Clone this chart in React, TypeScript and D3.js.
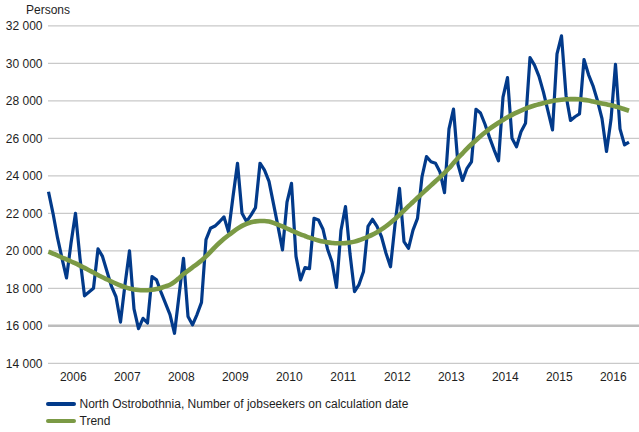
import * as React from 'react';
import { useEffect, useRef } from 'react';
import * as d3 from 'd3';

// monthly values, Jan 2006 .. Oct 2016
const years = ['2006', '2007', '2008', '2009', '2010', '2011', '2012', '2013', '2014', '2015', '2016'];

const jobseekers = [
    // 2006
    23150, 22000, 20700, 19600, 18550, 20400, 22000, 19600, 17600, 17800, 18000, 20100,
    // 2007
    19700, 18900, 18100, 17550, 16200, 18200, 20000, 16900, 15850, 16400, 16150, 18620,
    // 2008
    18450, 17800, 17200, 16600, 15600, 17600, 19600, 16500, 16050, 16600, 17250, 20600,
    // 2009
    21200, 21320, 21550, 21810, 21000, 22880, 24670, 22000, 21560, 21900, 22300, 24670,
    // 2010
    24300, 23700, 22500, 21300, 20050, 22600, 23600, 19700, 18450, 19100, 19050, 21730,
    // 2011
    21640, 21150, 20100, 19400, 18050, 21100, 22360, 19840, 17820, 18200, 18900, 21300,
    // 2012
    21680, 21300, 20750, 19870, 19150, 21400, 23330, 20490, 20130, 21100, 21730, 23950,
    // 2013
    25020, 24750, 24670, 24200, 23100, 26500, 27560, 24600, 23750, 24400, 24750, 27550,
    // 2014
    27350, 26750, 26050, 25400, 24800, 28200, 29240, 26000, 25550, 26350, 26800, 30300,
    // 2015
    29900, 29300, 28450, 27450, 26450, 30500, 31460, 28300, 26950, 27150, 27300, 30200,
    // 2016
    29400, 28800, 28000, 27050, 25300, 27000, 29950, 26500, 25650, 25800,
];

const trend = [
    19950, 19850, 19750, 19640, 19540, 19430, 19330, 19210, 19090, 18960, 18840, 18710,
    18590, 18470, 18360, 18250, 18150, 18060, 17990, 17940, 17910, 17900, 17900, 17920,
    17960, 18020, 18100, 18190, 18340, 18540, 18760, 18940, 19120, 19290, 19480, 19700,
    19940, 20200, 20430, 20640, 20830, 21010, 21180, 21330, 21440, 21520, 21570, 21590,
    21590, 21560, 21490, 21400, 21300, 21190, 21080, 20980, 20880, 20790, 20700, 20620,
    20550, 20490, 20450, 20420, 20400, 20400, 20410, 20440, 20490, 20560, 20650, 20750,
    20860, 20990, 21140, 21310, 21500, 21700, 21920, 22150, 22380, 22600, 22830, 23050,
    23270, 23490, 23710, 23930, 24160, 24400, 24680, 24950, 25200, 25450, 25680, 25900,
    26110, 26310, 26500, 26670, 26830, 26980, 27120, 27250, 27370, 27480, 27580, 27670,
    27750, 27820, 27880, 27940, 27990, 28030, 28060, 28080, 28090, 28090, 28080, 28050,
    28010, 27960, 27910, 27860, 27810, 27760, 27700, 27630, 27550, 27470,
];

const yTicks = [14000, 16000, 18000, 20000, 22000, 24000, 26000, 28000, 30000, 32000];

const seriesNames = ['North Ostrobothnia, Number of jobseekers on calculation date', 'Trend'];
const seriesColors = ['#023a8a', '#7b9a45'];

export default function App() {
    const svgRef = useRef<SVGSVGElement>(null);

    useEffect(() => {
        if (!svgRef.current) return;
        const width = 639;
        const font = '"Liberation Sans", Arial, sans-serif';

        const svg = d3.select(svgRef.current);
        svg.selectAll('*').remove();

        const x = d3.scaleLinear().domain([0, 131]).range([48.5, 638]);
        const y = d3.scaleLinear().domain([14000, 32000]).range([363.3, 25.8]);

        // gridlines (the 16 000 one is the axis, drawn heavier)
        svg.append('g')
            .selectAll('line')
            .data(yTicks)
            .enter().append('line')
            .attr('x1', 48)
            .attr('x2', width)
            .attr('y1', d => y(d))
            .attr('y2', d => y(d))
            .attr('stroke', d => (d === 16000 ? '#bcbcbc' : '#c9c9c9'))
            .attr('stroke-width', d => (d === 16000 ? 2.6 : 1.2));

        // y labels
        svg.append('g')
            .selectAll('text')
            .data(yTicks)
            .enter().append('text')
            .attr('x', 42.5)
            .attr('y', d => y(d))
            .attr('dy', '0.35em')
            .attr('text-anchor', 'end')
            .attr('font-size', 12)
            .attr('font-family', font)
            .attr('fill', '#1e1e1e')
            .text(d => d3.format(',')(d).replace(',', ' '));

        svg.append('text')
            .attr('x', 26)
            .attr('y', 13.5)
            .attr('font-size', 12)
            .attr('font-family', font)
            .attr('fill', '#1e1e1e')
            .text('Persons');

        // year labels, centred on each year
        svg.append('g')
            .selectAll('text')
            .data(years)
            .enter().append('text')
            .attr('x', (_, i) => x(i * 12 + 5.5))
            .attr('y', 381)
            .attr('text-anchor', 'middle')
            .attr('font-size', 12)
            .attr('font-family', font)
            .attr('fill', '#1e1e1e')
            .text(d => d);

        const line = d3.line<number>()
            .x((_, i) => x(i))
            .y(d => y(d));

        svg.append('path')
            .datum(jobseekers)
            .attr('fill', 'none')
            .attr('stroke', seriesColors[0])
            .attr('stroke-width', 3.2)
            .attr('stroke-linejoin', 'round')
            .attr('d', line);

        svg.append('path')
            .datum(trend)
            .attr('fill', 'none')
            .attr('stroke', seriesColors[1])
            .attr('stroke-width', 4.6)
            .attr('stroke-linejoin', 'round')
            .attr('d', line.curve(d3.curveMonotoneX));

        // legend
        const legend = svg.append('g')
            .selectAll('g')
            .data(seriesNames)
            .enter().append('g')
            .attr('transform', (_, i) => `translate(0,${404 + i * 17})`);
        legend.append('line')
            .attr('x1', 48)
            .attr('x2', 74)
            .attr('stroke', (_, i) => seriesColors[i])
            .attr('stroke-width', 4)
            .attr('stroke-linecap', 'round');
        legend.append('text')
            .attr('x', 79.5)
            .attr('dy', '0.35em')
            .attr('font-size', 12)
            .attr('font-family', font)
            .attr('fill', '#1e1e1e')
            .text(d => d);
    }, []);

    return (
        <div style={{ position: 'fixed', left: 0, top: 0, width: 639, height: 432, background: '#fff' }}>
            <svg ref={svgRef} width={639} height={432}></svg>
        </div>
    );
}
